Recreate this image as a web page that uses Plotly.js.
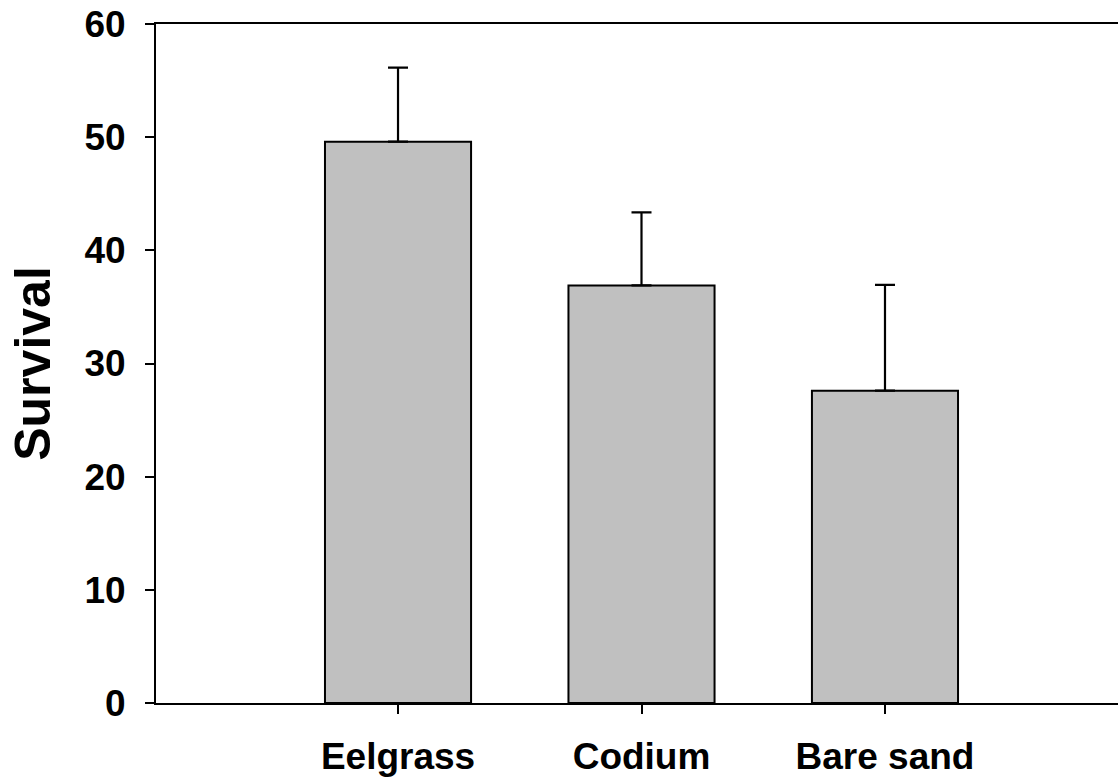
<!DOCTYPE html>
<html>
<head>
<meta charset="utf-8">
<script src="https://cdn.plot.ly/plotly-3.0.1.min.js"></script>
<style>
html,body{margin:0;padding:0;overflow:hidden;background:#fff;}
#chart{width:1118px;height:778px;}
</style>
</head>
<body>
<div id="chart"></div>
<script>
var categories = ["Eelgrass", "Codium", "Bare sand"];
var survival = [49.6, 36.9, 27.6];
var errorUp = [6.55, 6.45, 9.35];
var errorDown = [0, 0, 0];
var yTickVals = [0, 10, 20, 30, 40, 50, 60];

var FONT = "Liberation Sans, Arial, sans-serif";

var trace = {
  type: "bar",
  x: categories,
  y: survival,
  width: 0.6,
  marker: {color: "#c0c0c0", line: {color: "#000000", width: 2}},
  error_y: {type: "data", symmetric: false, array: errorUp, arrayminus: errorDown,
            color: "#000000", thickness: 2.2, width: 10},
  hoverinfo: "none"
};

var layout = {
  width: 1118, height: 778,
  margin: {l: 156, r: 0, t: 24, b: 74.5, pad: 0},
  paper_bgcolor: "#ffffff", plot_bgcolor: "#ffffff",
  showlegend: false,
  font: {family: FONT, color: "#000000"},
  xaxis: {
    type: "category",
    range: [-0.994, 2.957],
    showline: true, linecolor: "#000000", linewidth: 2, mirror: true,
    ticks: "outside", ticklen: 9, tickwidth: 2, tickcolor: "#000000",
    showgrid: false, zeroline: false,
    tickfont: {family: FONT, size: 37, color: "#000000", weight: "bold"},
    ticklabelstandoff: 11
  },
  yaxis: {
    range: [0, 60],
    tickvals: yTickVals,
    showline: true, linecolor: "#000000", linewidth: 2,
    ticks: "outside", ticklen: 9, tickwidth: 2, tickcolor: "#000000",
    showgrid: false, zeroline: false,
    tickfont: {family: FONT, size: 37, color: "#000000", weight: "bold"},
    ticklabelstandoff: 12,
    title: {text: "Survival", font: {family: FONT, size: 50, color: "#000000", weight: "bold"}, standoff: 18}
  }
};

Plotly.newPlot("chart", [trace], layout, {displayModeBar: false, staticPlot: true});
</script>
</body>
</html>
